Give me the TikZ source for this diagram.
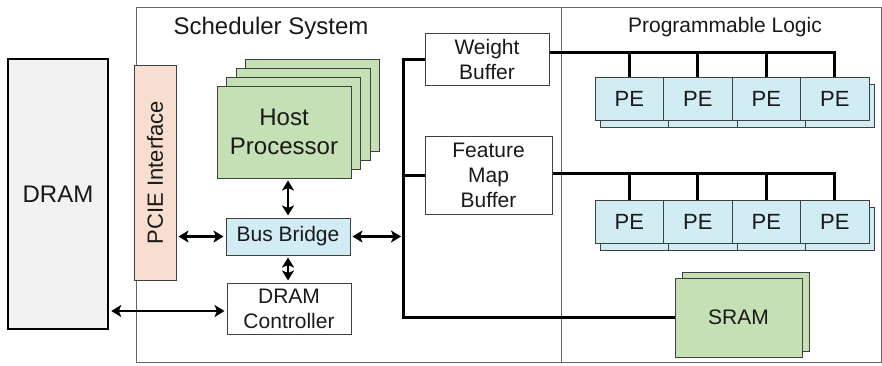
\documentclass[tikz,border=0pt]{standalone}
\usepackage{fontspec}
\setmainfont{Liberation Sans}
\usetikzlibrary{arrows.meta}
\definecolor{pciefill}{RGB}{248,222,208}
\definecolor{greenfill}{RGB}{197,224,180}
\definecolor{bluefill}{RGB}{210,236,244}
\definecolor{dramfill}{RGB}{242,242,242}
\tikzset{
	blk/.style = {draw=black!75, line width=1pt, align=center, inner sep=0pt,
		text=black!90, font=\fontsize{21}{25}\selectfont},
	blk_big/.style = {blk, font=\fontsize{24}{29}\selectfont},% host processor, dram
	blk_g/.style = {blk_big, fill=greenfill, minimum width=134pt, minimum height=92pt},
	blk_pe/.style = {blk, fill=bluefill, minimum width=68.5pt, minimum height=43pt,
		font=\fontsize{22}{25}\selectfont},
	blk_sram/.style = {blk, fill=greenfill, minimum width=127pt, minimum height=79pt},
	bus/.style = {line width=3pt, black},% thick data bus
	link/.style = {<->, >={Stealth[length=10pt, width=12pt, inset=2.5pt]},
		line width=2.6pt, black, shorten >=2pt, shorten <=2pt}
}

\begin{document}
\begin{tikzpicture}[x=1pt, y=-1pt]
\useasboundingbox (0,0) rectangle (882,365);

% frame of the two halves
\draw[black!60, line width=0.8pt] (136,7) rectangle (881,362);
\draw[black!60, line width=0.8pt] (561,7) -- (561,362);
\node[text=black!90, font=\fontsize{24}{28}\selectfont] (sched) at (271,28) {Scheduler System};
\node[text=black!90, font=\fontsize{21}{25}\selectfont] (plogic) at (725,27) {Programmable Logic};

% memory side
\node[blk_big, fill=dramfill, draw=black, line width=2.5pt,
	minimum width=100pt, minimum height=270pt] (dram) at (58,194) {DRAM};
\node[blk, fill=pciefill, rotate=90, minimum width=215pt, minimum height=42pt,
	font=\fontsize{22}{25}\selectfont] (pcie) at (155,172.5) {PCIE Interface};

% host processors, stacked
\foreach \k in {3,2,1}
	\node[blk_g] (host\k) at (284+9.5*\k, 132-9*\k) {};
\node[blk_g] (host) at (284,132) {Host\\Processor};

\node[blk, fill=bluefill, minimum width=124pt, minimum height=37pt] (bridge) at (288,236.5) {Bus Bridge};
\node[blk, fill=white, minimum width=124pt, minimum height=51pt] (ctrl) at (289,308.5) {DRAM\\Controller};

% buffers
\node[blk, fill=white, minimum width=124pt, minimum height=52pt] (wbuf) at (487,59) {Weight\\Buffer};
\node[blk, fill=white, minimum width=127pt, minimum height=78pt] (fmbuf) at (488.5,175) {Feature\\Map\\Buffer};

% PE arrays
\foreach \i in {1,...,4} {
	\node[blk_pe] (pwb\i) at (565.75+68.5*\i, 106) {};
	\node[blk_pe] (pfb\i) at (565.75+68.5*\i, 228.5) {};
}
\foreach \i in {1,...,4} {
	\node[blk_pe] (pw\i) at (560.75+68.5*\i, 99) {PE};
	\node[blk_pe] (pf\i) at (560.75+68.5*\i, 221.5) {PE};
}

% on-chip memory
\node[blk_sram] (sramb) at (745.5,311.5) {};
\node[blk_sram] (sram) at (738.5,317.5) {SRAM};

% bus lines
\coordinate (bus_t) at (403,59);
\coordinate (bus_b) at (sram.west -| bus_t);
\draw[bus] (wbuf.west) -- (bus_t) -- (bus_b) -- (sram.west);
\draw[bus] (fmbuf.west) -- (fmbuf.west -| bus_t);

\coordinate (wout) at ([yshift=7pt]wbuf.east);
\draw[bus] (wout) -| (pw4.north);
\foreach \i in {1,2,3}
	\draw[bus] (pw\i.north) -- (pw\i.north |- wout);
\coordinate (fout) at ([yshift=2pt]fmbuf.east);
\draw[bus] (fout) -| (pf4.north);
\foreach \i in {1,2,3}
	\draw[bus] (pf\i.north) -- (pf\i.north |- fout);

% arrows
\draw[link] (bridge.north) -- (bridge.north |- host.south);
\draw[link] (bridge.south) -- (bridge.south |- ctrl.north);
\draw[link] (pcie.south |- bridge.west) -- (bridge.west);
\draw[link] (bridge.east) -- (bridge.east -| bus_t);
\draw[link] (dram.east |- 0,311) -- (ctrl.west |- 0,311);
\end{tikzpicture}
\end{document}
